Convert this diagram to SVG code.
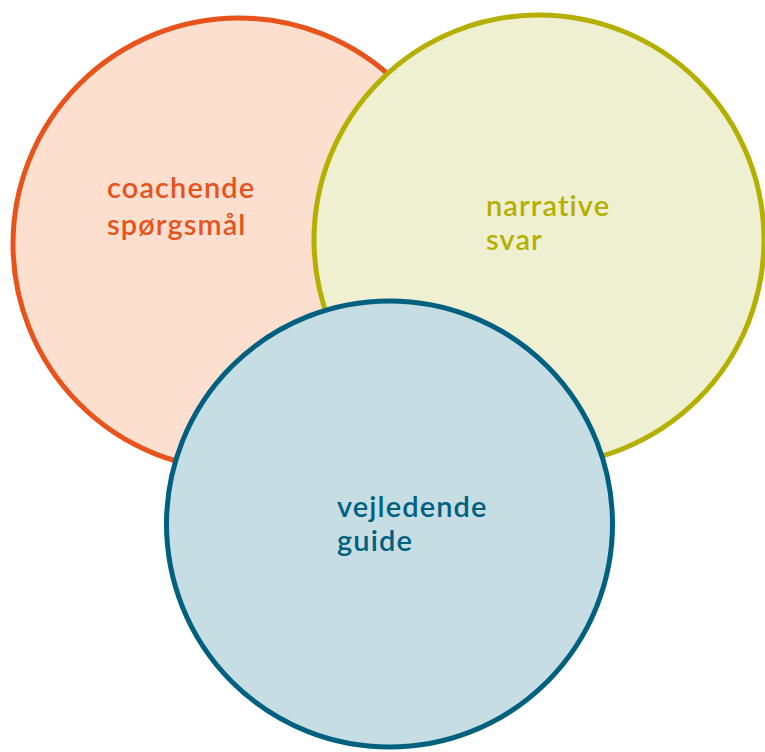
<svg xmlns="http://www.w3.org/2000/svg" width="765" height="752" viewBox="0 0 765 752">
<style>
.c{stroke-width:5}
.t{font-family:Lato,"Open Sans","Liberation Sans",sans-serif;font-size:29px;font-weight:600;letter-spacing:1.1px}
</style>
<rect width="765" height="752" fill="#ffffff"/>
<g id="node-coachende">
<circle class="c" cx="239" cy="244" r="226" fill="#FCDFCF" stroke="#E8531C"/>
<text class="t" fill="#E8531C"><tspan x="107" y="198">coachende</tspan><tspan x="107" y="235">spørgsmål</tspan></text>
</g>
<g id="node-narrative">
<circle class="c" cx="539" cy="240" r="225" fill="#EFEFD2" stroke="#B5B000"/>
<text class="t" fill="#B5B000"><tspan x="486" y="216">narrative</tspan><tspan x="486" y="250">svar</tspan></text>
</g>
<g id="node-vejledende">
<circle class="c" cx="389.5" cy="524" r="223" fill="#C6DDE4" stroke="#00607F"/>
<text class="t" fill="#00607F"><tspan x="337" y="517">vejledende</tspan><tspan x="337" y="551">guide</tspan></text>
</g>
<g id="connectors"/>
</svg>
